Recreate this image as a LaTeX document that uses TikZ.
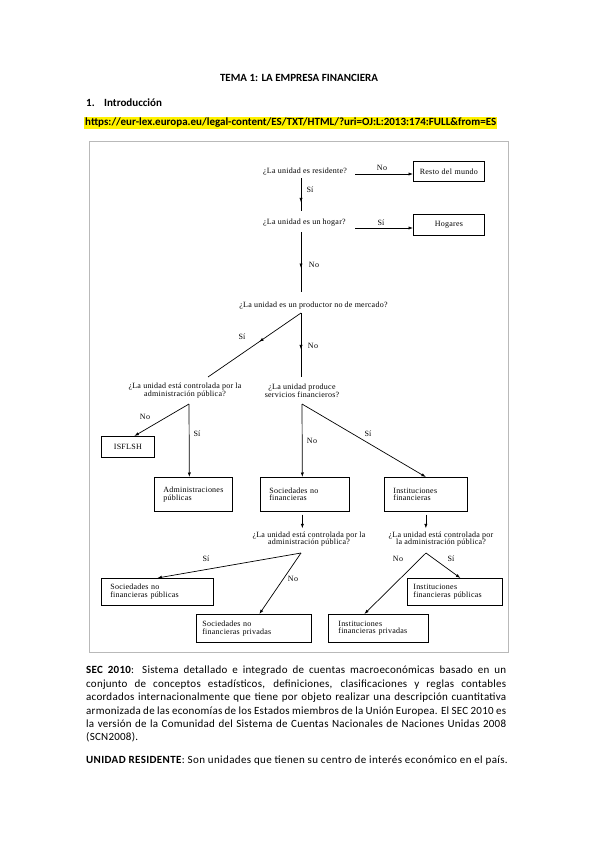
\documentclass[tikz,border=0pt]{standalone}
\usepackage{fontspec}
\setmainfont{Carlito}
\newfontfamily\bodyfont[LetterSpace=2.2]{Carlito}
\newfontfamily\widefont[LetterSpace=3.4]{Carlito}
\newfontfamily\dfont[LetterSpace=3]{Liberation Serif}
\usetikzlibrary{arrows.meta,decorations.markings}
\newcommand\dsize{\dfont\fontsize{8}{7.6}\selectfont}
\tikzset{
  dtext/.style={font=\dsize, inner sep=0pt, align=center},
  lbl/.style={font=\dsize, inner sep=0pt},
  box/.style={draw, line width=0.7pt, anchor=north west, inner xsep=8pt,
    inner ysep=0pt, align=left, font=\dsize},
  flow/.style={line width=0.7pt, -{Latex[length=4.5pt,width=3.2pt]}},
  midflow/.style={line width=0.7pt, decoration={markings,
    mark=at position #1 with {\arrow{Latex[length=4.5pt,width=3.2pt]}}},
    postaction={decorate}}
}

\begin{document}
\begin{tikzpicture}[x=1pt,y=-1pt]
\fill[white] (0,0) rectangle (599,848);
\useasboundingbox (0,0) rectangle (599,848);
% page header
\node[font=\bfseries\fontsize{11}{13}\selectfont] (title) at (299,78) {TEMA 1: LA EMPRESA FINANCIERA};
\node[font=\bfseries\fontsize{11}{13}\selectfont, anchor=west, inner sep=0pt] (num) at (86,103) {1.};
\node[font=\bfseries\fontsize{11}{13}\selectfont, anchor=west, inner sep=0pt] (intro) at (104,103) {Introducción};
\node[fill=yellow, font=\bfseries\fontsize{11}{13}\selectfont, anchor=west, inner xsep=1pt, inner ysep=1.2pt] (url) at (84,123)
  {https://eur-lex.europa.eu/legal-content/ES/TXT/HTML/?uri=OJ:L:2013:174:FULL\&from=ES};
% frame of the figure
\draw[gray!55, line width=1pt] (89,141) rectangle (508,652);

% questions
\node[dtext, anchor=west] (q1) at (263,172) {¿La unidad es residente?};
\node[dtext, anchor=west] (q2) at (263,223) {¿La unidad es un hogar?};
\node[dtext] (q3) at (313.5,306) {¿La unidad es un productor no de mercado?};
\node[dtext] (q4) at (185,390.5) {¿La unidad está controlada por la\\administración pública?};
\node[dtext] (q5) at (302,391) {¿La unidad produce\\servicios financieros?};
\node[dtext] (q6) at (309,539) {¿La unidad está controlada por la\\administración pública?};
\node[dtext] (q7) at (441,539) {¿La unidad está controlada por\\la administración pública?};

% sectors
\node[box, align=center, inner xsep=2pt, text width=67pt, minimum height=20pt] (resto) at (413,161) {Resto del mundo};
\node[box, align=center, inner xsep=2pt, text width=67pt, minimum height=21pt] (hog) at (413,214) {Hogares};
\node[box, align=center, inner xsep=2pt, text width=49pt, minimum height=21pt] (isflsh) at (101,436) {ISFLSH};
\node[box, inner xsep=9pt, text width=60pt, minimum height=34pt] (admin) at (154,477) {Administraciones\\públicas};
\node[box, inner xsep=9pt, text width=71pt, minimum height=34pt] (snf) at (260,477) {Sociedades no\\financieras};
\node[box, inner xsep=9pt, text width=65pt, minimum height=34pt] (inst) at (384,477) {Instituciones\\financieras};
\node[box, inner xsep=9pt, text width=94pt, minimum height=27pt] (snfpu) at (101,578) {Sociedades no\\financieras públicas};
\node[box, inner xsep=6pt, text width=83pt, minimum height=27pt] (ifpu) at (407,578) {Instituciones\\financieras públicas};
\node[box, inner xsep=6pt, text width=103pt, minimum height=28pt] (snfpr) at (196,614) {Sociedades no\\financieras privadas};
\node[box, inner xsep=10pt, text width=80pt, minimum height=28pt] (ifpr) at (328,614) {Instituciones\\financieras privadas};

% branch points
\coordinate (a1) at (355,174);
\coordinate (a2) at (355,228);
\coordinate (j1) at (301,178);
\coordinate (k1) at (301,211);
\coordinate (j2) at (301,232);
\coordinate (k2) at (301,292);
\coordinate (j3) at (301,313);
\coordinate (k3) at (208,377);
\coordinate (m3) at (301,377);
\coordinate (j4) at (189,404);
\coordinate (j5) at (302,404);
\coordinate (j7) at (301,553);
\coordinate (j8) at (426,553);

% connectors
\draw[flow] (a1) -- (a1 -| resto.west);
\draw[flow] (a2) -- (a2 -| hog.west);
\draw[midflow=0.74] (j1) -- (k1);
\draw[midflow=0.6] (j2) -- (k2);
\draw[midflow=0.45] (j3) -- (k3);
\draw[midflow=0.57] (j3) -- (m3);
\draw[flow] (j4) -- ([xshift=6.5pt]isflsh.north);
\draw[flow] (j4) -- ([xshift=-4pt]admin.north);
\draw[flow] (j5) -- ([xshift=-2.5pt]snf.north);
\draw[flow] (j5) -- (inst.north);
\draw[flow, shorten <=3pt, shorten >=3pt] ([xshift=-2.5pt]snf.south) -- ([xshift=-2.5pt]snf.south |- q6.north);
\draw[flow, shorten <=3pt, shorten >=3pt] (inst.south) -- (inst.south |- q7.north);
\draw[flow] (j7) -- (snfpu.north);
\draw[flow] (j7) -- ([xshift=5.5pt]snfpr.north);
\draw[flow] (j8) -- ([xshift=5.5pt]ifpu.north);
\draw[flow] (j8) -- ([xshift=-14pt]ifpr.north);

% answers
\node[lbl] (l1) at (382,168) {No};
\node[lbl] (l2) at (310,190) {Sí};
\node[lbl] (l3) at (381,223) {Sí};
\node[lbl] (l4) at (314,265) {No};
\node[lbl] (l5) at (242,337) {Sí};
\node[lbl] (l6) at (313,346) {No};
\node[lbl] (l7) at (145,417) {No};
\node[lbl] (l8) at (197,434) {Sí};
\node[lbl] (l9) at (312,441) {No};
\node[lbl] (l10) at (368,434) {Sí};
\node[lbl] (l11) at (206,559) {Sí};
\node[lbl] (l12) at (293,579) {No};
\node[lbl] (l13) at (398,559) {No};
\node[lbl] (l14) at (451,559) {Sí};

% text below the figure
\node[anchor=north west, text width=420pt, align=justify, inner sep=0pt,
  font=\bodyfont\fontsize{11}{13.4}\selectfont] (sec) at (86,666)
  {\textbf{SEC 2010}: Sistema detallado e integrado de cuentas macroeconómicas basado en un\linebreak
   conjunto de conceptos estadísticos, definiciones, clasificaciones y reglas contables\linebreak
   acordados internacionalmente que tiene por objeto realizar una descripción cuantitativa\linebreak
   armonizada de las economías de los Estados miembros de la Unión Europea. El SEC 2010 es\linebreak
   la versión de la Comunidad del Sistema de Cuentas Nacionales de Naciones Unidas 2008\linebreak
   (SCN2008).};
\node[anchor=west, inner sep=0pt, font=\widefont\fontsize{11}{13.4}\selectfont] (ures) at (86,761)
  {\textbf{UNIDAD RESIDENTE}: Son unidades que tienen su centro de interés económico en el país.};
\end{tikzpicture}
\end{document}
